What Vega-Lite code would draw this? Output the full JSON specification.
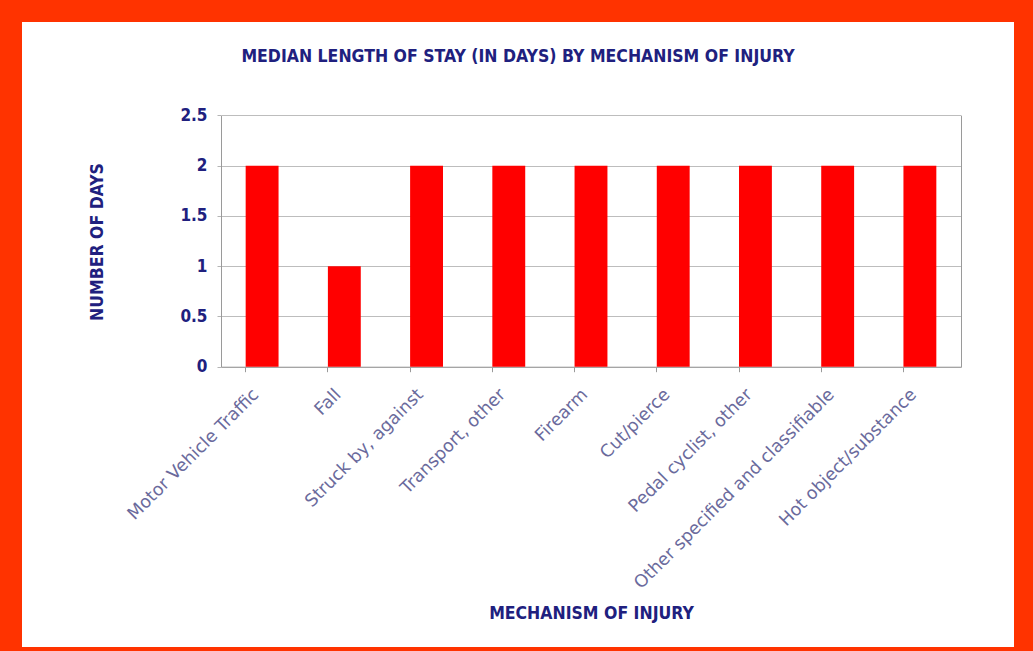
{
  "$schema": "https://vega.github.io/schema/vega-lite/v6.json",
  "width": 992,
  "height": 625,
  "autosize": {"type": "none"},
  "padding": {"left": 22, "top": 22, "right": 19, "bottom": 4},
  "background": "#ff3300",
  "title": {
    "text": "MEDIAN LENGTH OF STAY (IN DAYS) BY MECHANISM OF INJURY",
    "font": "DejaVu Sans Condensed, Liberation Sans Narrow, DejaVu Sans",
    "fontSize": 17.5,
    "fontWeight": "bold",
    "color": "#20207e",
    "anchor": "middle",
    "baseline": "middle",
    "offset": -52
  },
  "data": {
    "values": [
      {"mechanism": "Motor Vehicle Traffic", "days": 2},
      {"mechanism": "Fall", "days": 1},
      {"mechanism": "Struck by, against", "days": 2},
      {"mechanism": "Transport, other", "days": 2},
      {"mechanism": "Firearm", "days": 2},
      {"mechanism": "Cut/pierce", "days": 2},
      {"mechanism": "Pedal cyclist, other", "days": 2},
      {"mechanism": "Other specified and classifiable", "days": 2},
      {"mechanism": "Hot object/substance", "days": 2}
    ]
  },
  "layer": [
    {
      "mark": {"type": "bar", "color": "#ff0000"},
      "encoding": {
        "x": {
          "field": "mechanism",
          "type": "nominal",
          "sort": null,
          "scale": {"range": [199, 939], "paddingInner": 0.6, "paddingOuter": 0.3},
          "axis": {
            "orient": "bottom",
            "offset": -280.3,
            "title": "MECHANISM OF INJURY",
            "titleFont": "DejaVu Sans Condensed, Liberation Sans Narrow, DejaVu Sans",
            "titleFontSize": 17.5,
            "titleFontWeight": "bold",
            "titleColor": "#20207e",
            "titleY": 247,
            "titleBaseline": "middle",
            "labelAngle": -45,
            "labelAlign": "right",
            "labelBaseline": "middle",
            "labelFont": "DejaVu Sans",
            "labelFontSize": 17.5,
            "labelColor": "#6a6a9c",
            "labelPadding": 25,
            "labelOffset": -6,
            "labelOverlap": false,
            "labelLimit": 0,
            "ticks": false,
            "tickSize": 0,
            "domain": true,
            "domainColor": "#9a9a9a",
            "grid": false
          }
        },
        "y": {
          "field": "days",
          "type": "quantitative",
          "scale": {"domain": [0, 2.5], "range": [344.7, 93.4], "nice": false},
          "axis": {
            "orient": "left",
            "offset": -199,
            "values": [0, 0.5, 1, 1.5, 2, 2.5],
            "format": "~g",
            "title": "NUMBER OF DAYS",
            "titleFont": "DejaVu Sans Condensed, Liberation Sans Narrow, DejaVu Sans",
            "titleFontSize": 17.5,
            "titleFontWeight": "bold",
            "titleColor": "#20207e",
            "titleX": -123.5,
            "titleY": 219.5,
            "titleBaseline": "middle",
            "titleAngle": -90,
            "labelFont": "DejaVu Sans Condensed, Liberation Sans Narrow, DejaVu Sans",
            "labelFontSize": 17,
            "labelFontWeight": "bold",
            "labelColor": "#20207e",
            "labelPadding": 10,
            "ticks": true,
            "tickSize": 4,
            "tickColor": "#b5b5b5",
            "domain": true,
            "domainColor": "#9a9a9a",
            "grid": true,
            "gridColor": "#bdbdbd"
          }
        }
      }
    },
    {
      "mark": {"type": "bar", "opacity": 0},
      "encoding": {
        "x": {
          "field": "mechanism",
          "type": "nominal",
          "sort": null,
          "axis": {
            "orient": "bottom",
            "offset": -280.3,
            "title": null,
            "labels": false,
            "domain": false,
            "grid": false,
            "ticks": true,
            "tickSize": 5,
            "tickColor": "#9a9a9a",
            "bandPosition": 0
          }
        },
        "y": {
          "field": "days",
          "type": "quantitative",
          "axis": {
            "orient": "right",
            "offset": -53,
            "title": null,
            "labels": false,
            "ticks": false,
            "grid": false,
            "domain": true,
            "domainColor": "#9a9a9a"
          }
        }
      }
    }
  ],
  "resolve": {"axis": {"x": "independent", "y": "independent"}},
  "config": {
    "view": {"fill": "#ffffff", "stroke": null}
  }
}
